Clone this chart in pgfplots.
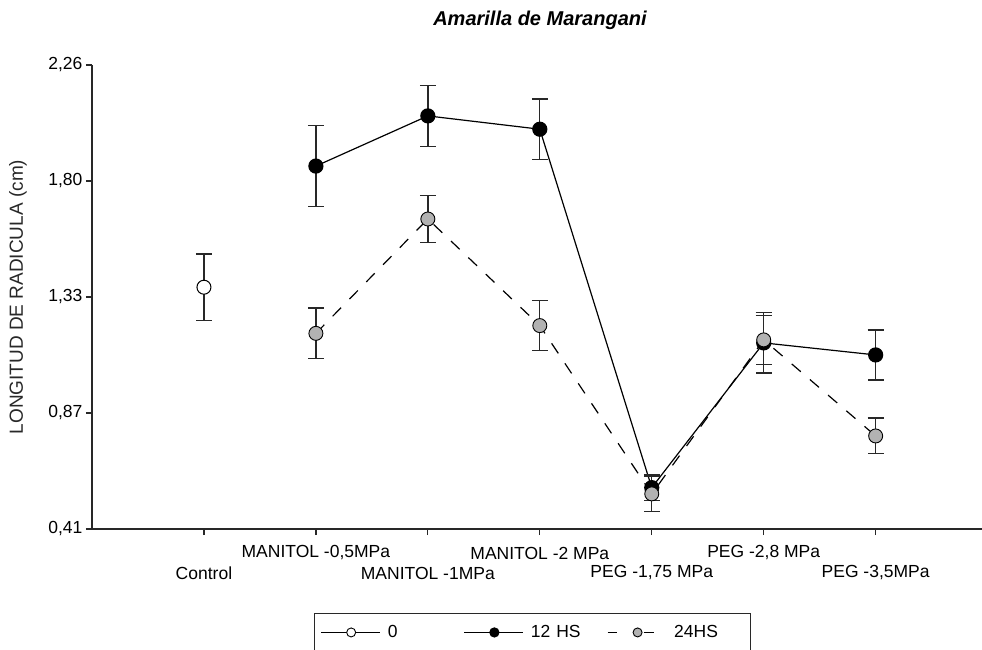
\documentclass[border=0pt]{standalone}
\usepackage{pgfplots}
\pgfplotsset{compat=1.18}
\usepackage{fontspec}
\setmainfont{Liberation Sans}
\definecolor{midgray}{RGB}{178,178,178}
\definecolor{axisgray}{RGB}{40,40,40}

% mean root length and its error for each treatment
\pgfplotstableread{
x   y      e
0   1.374  0.133
}\control
\pgfplotstableread{
x   y      e
1   1.857  0.162
2   2.057  0.122
3   2.004  0.121
4   0.575  0.050
5   1.152  0.120
6   1.104  0.100
}\twelve
\pgfplotstableread{
x   y      e
1   1.190  0.101
2   1.646  0.094
3   1.221  0.100
4   0.550  0.070
5   1.164  0.098
6   0.781  0.071
}\twentyfour

\begin{document}
\begin{tikzpicture}[x=1pt,y=1pt]
\useasboundingbox (-92,-121) rectangle (890,529);
\begin{axis}[
  scale only axis, width=890pt, height=464pt,
  at={(0,0)}, anchor=south west,
  xmin=-1, xmax=6.95, ymin=0.41, ymax=2.26,
  axis x line*=bottom, axis y line*=left,
  axis line style={line width=1.3pt, axisgray},
  every tick/.style={line width=1.2pt, axisgray},
  tick align=outside, major tick length=6pt,
  tick label style={font=\fontsize{17.5}{20}\selectfont},
  ytick={0.41,0.8725,1.335,1.7975,2.26},
  yticklabels={{0,41},{0,87},{1,33},{1,80},{2,26}},
  xtick={0,2,4,6},
  xticklabels={{Control},{MANITOL -1MPa},{PEG -1,75 MPa},{PEG -3,5MPa}},
  extra x ticks={1,3,5},
  extra x tick labels={{MANITOL -0,5MPa},{MANITOL -2 MPa},{PEG -2,8 MPa}},
  xticklabel style={anchor=center, yshift=-38pt},
  extra x tick style={xticklabel style={yshift=20pt}},
  legend columns=3,
  legend image code/.code={\draw[mark repeat=2, mark phase=2, #1]
    plot coordinates {(0pt,0pt) (30pt,0pt) (59pt,0pt)};},
  legend image post style={mark size=4.5pt},
  legend style={at={(axis description cs:0.2494,-0.181)}, anchor=north west,
    draw=axisgray, line width=1.2pt, inner xsep=6pt, inner ysep=10pt,
    font=\fontsize{17.5}{20}\selectfont,
    nodes={text width=70pt, align=left, inner xsep=0pt},
    /tikz/every odd column/.append style={column sep=7pt},
    /tikz/every even column/.append style={column sep=6pt}},
  error bars/error bar style={line width=1.3pt, axisgray, solid},
  error bars/error mark options={rotate=90, mark size=8pt, line width=1.3pt, axisgray, solid},
]
\addlegendimage{black, solid, line width=1.2pt, mark=*, mark options={fill=white, draw=black, line width=0.9pt}}
\addlegendentry{0}
\addlegendimage{black, solid, line width=1.2pt, mark=*, mark options={fill=black, draw=black}}
\addlegendentry{12 HS}
\addlegendimage{black, dash pattern=on 9pt off 27pt on 10pt off 13pt, line width=1.2pt, mark=*, mark options={solid, fill=midgray, draw=black, line width=0.9pt}}
\addlegendentry{24HS}

% 12 HS
\addplot[forget plot, black, line width=1.2pt, mark=*, mark size=7pt,
  mark options={fill=black, draw=black},
  error bars/.cd, y dir=both, y explicit]
  table[x=x, y=y, y error=e] {\twelve};
% 24 HS
\addplot[forget plot, black, line width=1.2pt, dash pattern=on 12pt off 12pt,
  mark=*, mark size=7pt,
  mark options={solid, fill=midgray, draw=black, line width=0.9pt},
  error bars/.cd, y dir=both, y explicit]
  table[x=x, y=y, y error=e] {\twentyfour};
% control
\addplot[forget plot, only marks, mark=*, mark size=7pt,
  mark options={fill=white, draw=black, line width=1pt},
  error bars/.cd, y dir=both, y explicit]
  table[x=x, y=y, y error=e] {\control};
\end{axis}
\node[font=\fontsize{20}{24}\selectfont\bfseries\itshape] at (448,509) {Amarilla de Marangani};
\node[rotate=90, font=\fontsize{19}{22}\selectfont, text=axisgray] at (-74,232) {LONGITUD DE RADICULA (cm)};
\end{tikzpicture}
\end{document}
